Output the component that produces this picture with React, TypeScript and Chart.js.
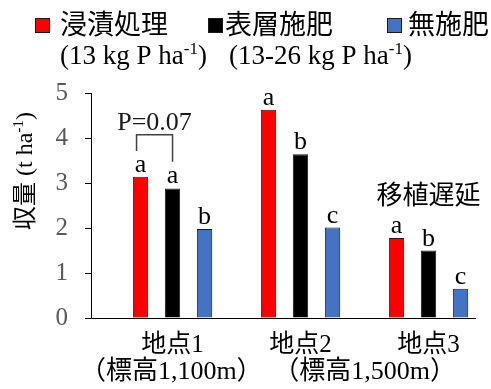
import React, { useEffect, useRef } from 'react';
import { Chart, registerables } from 'chart.js';

Chart.register(...registerables);

// ---- data ----
const sites = ['地点1', '地点2', '地点3'];
const siteX = [1, 2, 3];
const elevations = ['（標高1,100m）', '（標高1,500m）'];
const elevationX = [0.99, 2.5];
const seriesNames = ['浸漬処理', '表層施肥', '無施肥'];
const seriesNotes = ['(13 kg P ha', '(13-26 kg P ha'];
const soaking = [3.14, 4.63, 1.78];
const surface = [2.88, 3.64, 1.5];
const noFert = [1.98, 2.01, 0.65];
const soakingLetters = ['a', 'a', 'a'];
const surfaceLetters = ['a', 'b', 'b'];
const noFertLetters = ['b', 'c', 'c'];
const yMin = 0;
const yMax = 5;
const yStep = 1;
const pText = 'P=0.07';
const bracketValues = [4.07, 3.71, 3.47]; // top, left leg end, right leg end
const delayNote = '移植遅延';
const delayNoteAt = [3, 2.75];

// ---- styles ----
const colors = ['#FF0000', '#000000', '#4472C4'];
const SERIF = "'Liberation Serif', 'Times New Roman', serif";
const CJK = "'Noto Sans CJK JP', sans-serif";
const MIX = "'Liberation Serif', 'Noto Sans CJK JP'";

const W = 491;
const H = 389;

function drawRich(ctx: CanvasRenderingContext2D, parts: { t: string; f: string; dy?: number }[], x: number, y: number, align: 'left' | 'center') {
  let total = 0;
  const widths = parts.map((p) => {
    ctx.font = p.f;
    const w = ctx.measureText(p.t).width;
    total += w;
    return w;
  });
  let cx = align === 'center' ? x - total / 2 : x;
  ctx.textAlign = 'left';
  parts.forEach((p, i) => {
    ctx.font = p.f;
    ctx.fillText(p.t, cx, y + (p.dy || 0));
    cx += widths[i];
  });
}

const annotations = {
  id: 'annotations',
  afterDatasetsDraw(chart: any) {
    const ctx: CanvasRenderingContext2D = chart.ctx;
    const xs = chart.scales.x;
    const ys = chart.scales.y;
    const letterSets = [soakingLetters, surfaceLetters, noFertLetters];
    ctx.save();
    ctx.fillStyle = '#000';
    ctx.font = `26px ${SERIF}`;
    ctx.textAlign = 'center';
    ctx.textBaseline = 'alphabetic';
    letterSets.forEach((letters, i) => {
      const meta = chart.getDatasetMeta(i);
      meta.data.forEach((bar: any, j: number) => {
        ctx.fillText(letters[j], bar.x, bar.y - 5);
      });
    });

    // bracket
    const b0 = chart.getDatasetMeta(0).data[0];
    const b1 = chart.getDatasetMeta(1).data[0];
    const topY = ys.getPixelForValue(bracketValues[0]);
    const lY = ys.getPixelForValue(bracketValues[1]);
    const rY = ys.getPixelForValue(bracketValues[2]);
    ctx.strokeStyle = '#404040';
    ctx.lineWidth = 1.5;
    ctx.beginPath();
    ctx.moveTo(b0.x - 4, lY);
    ctx.lineTo(b0.x - 4, topY);
    ctx.lineTo(b1.x, topY);
    ctx.lineTo(b1.x, rY);
    ctx.stroke();
    ctx.fillStyle = '#1a1a1a';
    ctx.font = `26px ${SERIF}`;
    ctx.fillText(pText, (b0.x - 4 + b1.x) / 2, topY - 5);

    // delay note
    ctx.fillStyle = '#000';
    ctx.font = `26px ${CJK}`;
    ctx.textBaseline = 'middle';
    ctx.fillText(delayNote, xs.getPixelForValue(delayNoteAt[0]), ys.getPixelForValue(delayNoteAt[1]));
    ctx.restore();
  },
  afterDraw(chart: any) {
    const ctx: CanvasRenderingContext2D = chart.ctx;
    const xs = chart.scales.x;
    ctx.save();
    ctx.fillStyle = '#000';
    ctx.textBaseline = 'middle';

    // elevation lines under the site labels
    ctx.font = `26px ${MIX}`;
    ctx.textAlign = 'center';
    elevations.forEach((t, i) => {
      ctx.fillText(t, xs.getPixelForValue(elevationX[i]), 372);
    });

    // y title
    ctx.save();
    ctx.translate(24, 171);
    ctx.rotate(-Math.PI / 2);
    ctx.textBaseline = 'alphabetic';
    drawRich(
      ctx,
      [
        { t: '収量', f: `24px ${CJK}`, dy: 1 },
        { t: ' (t ha', f: `24px ${SERIF}` },
        { t: '-1', f: `15px ${SERIF}`, dy: -9 },
        { t: ')', f: `24px ${SERIF}` },
      ],
      0,
      8,
      'center'
    );
    ctx.restore();

    // legend
    const boxX = [35, 208, 387];
    const textX = [60, 225, 408];
    const noteX = [60, 229];
    seriesNames.forEach((name, i) => {
      ctx.fillStyle = colors[i];
      ctx.fillRect(boxX[i], 18, 15, 15);
      ctx.strokeStyle = '#1a1a1a';
      ctx.lineWidth = 1;
      ctx.strokeRect(boxX[i] + 0.5, 18.5, 14, 14);
      ctx.fillStyle = '#000';
      ctx.font = `27px ${CJK}`;
      ctx.textAlign = 'left';
      ctx.textBaseline = 'middle';
      ctx.fillText(name, textX[i], 24);
    });
    ctx.textBaseline = 'alphabetic';
    seriesNotes.forEach((n, i) => {
      drawRich(
        ctx,
        [
          { t: n, f: `27px ${SERIF}` },
          { t: '-1', f: `17px ${SERIF}`, dy: -10 },
          { t: ')', f: `27px ${SERIF}` },
        ],
        noteX[i],
        64,
        'left'
      );
    });
    ctx.restore();
  },
};

export default function App() {
  const ref = useRef<HTMLCanvasElement | null>(null);
  useEffect(() => {
    if (!ref.current) return;
    const series = [soaking, surface, noFert];
    const chart = new Chart(ref.current, {
      type: 'bar',
      data: {
        datasets: series.map((vals, i) => ({
          label: seriesNames[i],
          data: vals.map((v, j) => ({ x: siteX[j], y: v })),
          backgroundColor: colors[i],
          borderColor: '#1a1a1a',
          borderWidth: 1,
          categoryPercentage: 0.75,
          barPercentage: 0.48,
        })),
      },
      options: {
        responsive: false,
        animation: false,
        devicePixelRatio: 1,
        layout: { padding: { left: 0, right: 16, top: 93, bottom: 0 } },
        plugins: { legend: { display: false }, tooltip: { enabled: false } },
        scales: {
          x: {
            type: 'linear',
            offset: false,
            min: siteX[0] - 0.637,
            max: siteX[2] + 0.363,
            afterBuildTicks: (s: any) => {
              s.ticks = siteX.map((v) => ({ value: v }));
            },
            afterFit: (s: any) => {
              s.height = 71;
            },
            ticks: {
              callback: (v: any) => sites[siteX.indexOf(Number(v))] ?? '',
              font: { family: MIX, size: 25 },
              color: '#000',
              padding: 12,
              maxRotation: 0,
              autoSkip: false,
            },
            grid: { display: false, drawTicks: false, offset: false },
            border: { display: true, color: '#000', width: 1 },
          },
          y: {
            min: yMin,
            max: yMax,
            afterFit: (s: any) => {
              s.width = 91;
            },
            ticks: {
              stepSize: yStep,
              font: { family: SERIF, size: 25 },
              color: '#595959',
              padding: 17,
            },
            grid: { display: true, drawOnChartArea: false, drawTicks: true, tickLength: 6, color: '#000' },
            border: { display: true, color: '#000', width: 1 },
          },
        },
      },
      plugins: [annotations],
    });
    return () => chart.destroy();
  }, []);
  return (
    <div style={{ position: 'absolute', left: 0, top: 0, width: W, height: H, background: '#fff' }}>
      <canvas ref={ref} width={W} height={H} style={{ width: W, height: H, display: 'block' }} />
    </div>
  );
}
